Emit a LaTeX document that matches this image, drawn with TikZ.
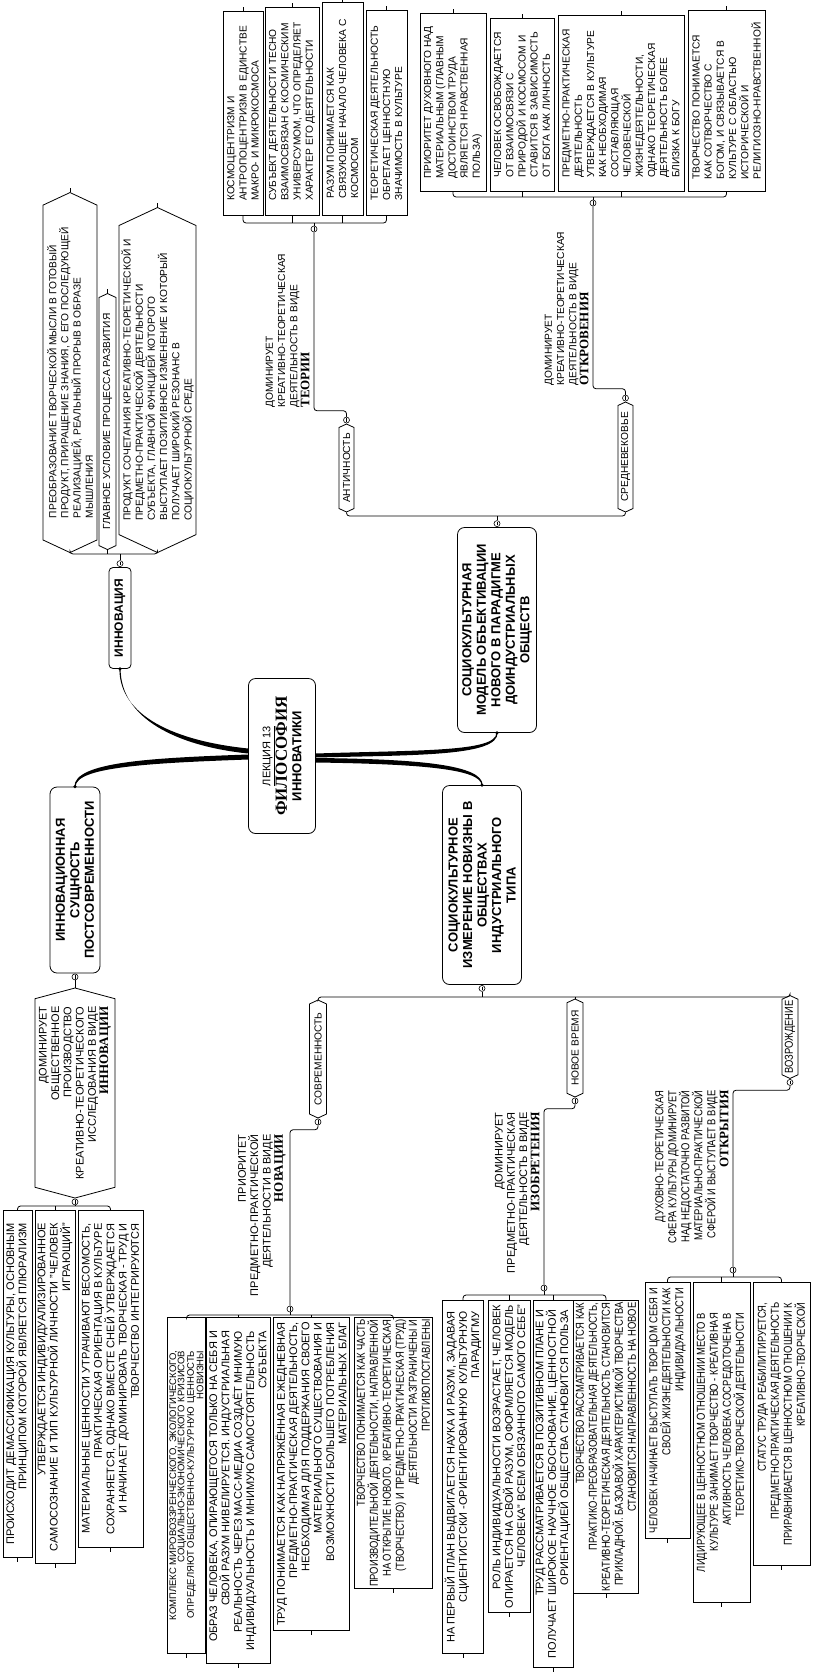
\documentclass[tikz,border=0pt]{standalone}
\usepackage{fontspec}
\setmainfont{Liberation Sans}
\newfontfamily\narrowfont{Liberation Sans}[FakeStretch=0.82]
\newfontfamily\headfont{Liberation Serif}
\usetikzlibrary{shapes.symbols,positioning}

\newcommand\leaftop{\fontsize{10.2}{12.2}\selectfont}
\newcommand\leafbot{\fontsize{11}{12.3}\selectfont}
\newcommand\leafnar{\narrowfont\fontsize{11.5}{13}\selectfont}

\tikzset{
  leaf/.style={draw, rectangle, rotate=90, inner sep=2pt, line width=1pt, font=\leaftop},
  era/.style={draw, signal, signal to=east and west, signal pointer angle=130, rotate=90, inner sep=1pt, font=\leaftop},
  topic/.style={draw, rounded corners=7pt, rotate=90, align=center, inner sep=2pt, font=\bfseries\fontsize{13}{14.5}\selectfont},
  note/.style={rotate=90, inner sep=0pt, font=\leaftop},
  knob/.style={circle, draw, fill=white, inner sep=0pt, minimum size=6pt, line width=0.6pt,
    path picture={\draw ([yshift=1.8pt]path picture bounding box.center) -- ([yshift=-1.8pt]path picture bounding box.center);}},
  brace/.style={rounded corners=3pt},
  branch/.style={fill=black}
}

\begin{document}
\begin{tikzpicture}[x=1pt, y=-1pt, line width=0.8pt]
\fill[white] (0,0) rectangle (813,1675);
\useasboundingbox (0,0) rectangle (813,1675);

% centre and main topics
\node[topic, minimum width=155, minimum height=67] (lec) at (282,756)
  {\mdseries\fontsize{11}{14}\selectfont\underline{ЛЕКЦИЯ 13}\\
   \headfont\bfseries\fontsize{17}{17}\selectfont ФИЛОСОФИЯ\\ИННОВАТИКИ};
\node[topic, minimum width=101, minimum height=22, rounded corners=4pt, font=\bfseries\fontsize{12}{13}\selectfont] (inn) at (120,618) {ИННОВАЦИЯ};
\node[topic, minimum width=186, minimum height=50] (post) at (75,880) {ИННОВАЦИОННАЯ\\СУЩНОСТЬ\\ПОСТСОВРЕМЕННОСТИ};
\node[topic, minimum width=205, minimum height=79] (pre) at (497,630) {СОЦИОКУЛЬТУРНАЯ\\МОДЕЛЬ ОБЪЕКТИВАЦИИ\\НОВОГО В ПАРАДИГМЕ\\ДОИНДУСТРИАЛЬНЫХ\\ОБЩЕСТВ};
\node[topic, minimum width=199, minimum height=79] (ind) at (482,885) {СОЦИОКУЛЬТУРНОЕ\\ИЗМЕРЕНИЕ НОВИЗНЫ В\\ОБЩЕСТВАХ\\ИНДУСТРИАЛЬНОГО\\ТИПА};

\fill[branch] ([yshift=7.5pt]lec.north) .. controls (175,741) and (119.4,716) .. ([xshift=-0.6pt]inn.west)
  -- ([xshift=0.6pt]inn.west) .. controls (120.6,718) and (176,746) .. ([yshift=2.5pt]lec.north) -- cycle;
\fill[branch] ([yshift=1.5pt]lec.north) .. controls (150,758) and (74.4,762) .. ([xshift=-0.6pt]post.east)
  -- ([xshift=0.6pt]post.east) .. controls (75.6,767) and (150,763) .. ([yshift=-3.5pt]lec.north) -- cycle;
\fill[branch] ([yshift=2.5pt]lec.south) .. controls (420,750) and (496.4,752) .. ([xshift=-0.6pt]pre.west)
  -- ([xshift=0.6pt]pre.west) .. controls (497.6,756) and (420,755) .. ([yshift=-1.5pt]lec.south) -- cycle;
\fill[branch] ([yshift=-2pt]lec.south) .. controls (420,759) and (482.6,765) .. ([xshift=0.6pt]ind.east)
  -- ([xshift=-0.6pt]ind.east) .. controls (481.4,769) and (420,764) .. ([yshift=-6.5pt]lec.south) -- cycle;
\foreach \t/\a in {inn/west, post/east, pre/west, ind/east}
  \fill (\t.\a) circle (1.8pt);

% innovation
\node[era, anchor=west, minimum width=360, minimum height=54, align=left] (inn1) at (70,553)
  {ПРЕОБРАЗОВАНИЕ ТВОРЧЕСКОЙ МЫСЛИ В ГОТОВЫЙ\\ПРОДУКТ, ПРИРАЩЕНИЕ ЗНАНИЯ, С ЕГО ПОСЛЕДУЮЩЕЙ\\РЕАЛИЗАЦИЕЙ, РЕАЛЬНЫЙ ПРОРЫВ В ОБРАЗЕ\\МЫШЛЕНИЯ};
\node[era, anchor=west, minimum width=256, minimum height=17] (inn2) at (107.5,550) {ГЛАВНОЕ УСЛОВИЕ ПРОЦЕССА РАЗВИТИЯ};
\node[era, anchor=west, minimum width=345, minimum height=77, align=left] (inn3) at (157.5,553)
  {ПРОДУКТ СОЧЕТАНИЯ КРЕАТИВНО-ТЕОРЕТИЧЕСКОЙ И\\ПРЕДМЕТНО-ПРАКТИЧЕСКОЙ ДЕЯТЕЛЬНОСТИ\\СУБЪЕКТА, ГЛАВНОЙ ФУНКЦИЕЙ КОТОРОГО\\ВЫСТУПАЕТ ПОЗИТИВНОЕ ИЗМЕНЕНИЕ И КОТОРЫЙ\\ПОЛУЧАЕТ ШИРОКИЙ РЕЗОНАНС В\\СОЦИОКУЛЬТУРНОЙ СРЕДЕ};
\node[knob] (innk) at ([yshift=3.5pt]inn.east) {};
\coordinate (innb) at (120,554);
\draw[brace] (inn1.west) |- (innb) -| (inn3.west);
\draw (inn2.west) -- (inn2.west |- innb);
\draw (innk.north) -- (innb);

% antiquity
\node[era, minimum width=88, minimum height=15] (ant) at (346.5,468) {АНТИЧНОСТЬ};
\node[leaf, anchor=west, minimum width=204, minimum height=40, align=left] (ant1) at (243,216)
  {КОСМОЦЕНТРИЗМ И\\АНТРОПОЦЕНТРИЗМ В ЕДИНСТВЕ\\МАКРО- И МИКРОКОСМОСА};
\node[leaf, anchor=west, minimum width=208, minimum height=54, align=left] (ant2) at (292,216)
  {СУБЪЕКТ ДЕЯТЕЛЬНОСТИ ТЕСНО\\ВЗАИМОСВЯЗАН С КОСМИЧЕСКИМ\\УНИВЕРСУМОМ, ЧТО ОПРЕДЕЛЯЕТ\\ХАРАКТЕР ЕГО ДЕЯТЕЛЬНОСТИ};
\node[leaf, anchor=west, minimum width=213, minimum height=41, align=left] (ant3) at (342.5,216)
  {РАЗУМ ПОНИМАЕТСЯ КАК\\СВЯЗУЮЩЕЕ НАЧАЛО ЧЕЛОВЕКА С\\КОСМОСОМ};
\node[leaf, anchor=west, minimum width=205, minimum height=41, align=left] (ant4) at (386.5,216)
  {ТЕОРЕТИЧЕСКАЯ ДЕЯТЕЛЬНОСТЬ\\ОБРЕТАЕТ ЦЕННОСТНУЮ\\ЗНАЧИМОСТЬ В КУЛЬТУРЕ};
\node[note, anchor=south west, align=left] (antlab) at (310,408)
  {ДОМИНИРУЕТ\\КРЕАТИВНО-ТЕОРЕТИЧЕСКАЯ\\ДЕЯТЕЛЬНОСТЬ В ВИДЕ\\{\headfont\bfseries\fontsize{13}{12}\selectfont ТЕОРИИ}};
\node[knob] (antk) at ([yshift=3.5pt]ant.east) {};
\node[knob] (antbk) at (314,229) {};
\coordinate (antb) at (314,223);
\draw[brace] (ant1.west) |- (antb) -| (ant4.west);
\foreach \n in {ant2,ant3} \draw (\n.west) -- (\n.west |- antb);
\draw (antbk.north) -- (antb);
\draw[brace] (antk.north) -- ++(0,-6) -| (antbk.south);

% middle ages
\node[era, minimum width=110, minimum height=15] (med) at (625.5,457) {СРЕДНЕВЕКОВЬЕ};
\node[leaf, anchor=west, minimum width=178, minimum height=66, align=left] (med1) at (453,192)
  {ПРИОРИТЕТ ДУХОВНОГО НАД\\МАТЕРИАЛЬНЫМ (ГЛАВНЫМ\\ДОСТОИНСТВОМ ТРУДА\\ЯВЛЯЕТСЯ НРАВСТВЕННАЯ\\ПОЛЬЗА)};
\node[leaf, anchor=west, minimum width=173, minimum height=64, align=left] (med2) at (522,192)
  {ЧЕЛОВЕК ОСВОБОЖДАЕТСЯ\\ОТ ВЗАИМОСВЯЗИ С\\ПРИРОДОЙ И КОСМОСОМ И\\СТАВИТСЯ В ЗАВИСИМОСТЬ\\ОТ БОГА КАК ЛИЧНОСТЬ};
\node[leaf, anchor=west, minimum width=176, minimum height=126, align=left] (med3) at (621,192)
  {ПРЕДМЕТНО-ПРАКТИЧЕСКАЯ\\ДЕЯТЕЛЬНОСТЬ\\УТВЕРЖДАЕТСЯ В КУЛЬТУРЕ\\КАК НЕОБХОДИМАЯ\\СОСТАВЛЯЮЩАЯ\\ЧЕЛОВЕЧЕСКОЙ\\ЖИЗНЕДЕЯТЕЛЬНОСТИ,\\ОДНАКО ТЕОРЕТИЧЕСКАЯ\\ДЕЯТЕЛЬНОСТЬ БОЛЕЕ\\БЛИЗКА К БОГУ};
\node[leaf, anchor=west, minimum width=181, minimum height=77, align=left] (med4) at (726.5,192)
  {ТВОРЧЕСТВО ПОНИМАЕТСЯ\\КАК СОТВОРЧЕСТВО С\\БОГОМ, И СВЯЗЫВАЕТСЯ В\\КУЛЬТУРЕ С ОБЛАСТЬЮ\\ИСТОРИЧЕСКОЙ И\\РЕЛИГИОЗНО-НРАВСТВЕННОЙ};
\node[note, anchor=south west, align=left] (medlab) at (589,386)
  {ДОМИНИРУЕТ\\КРЕАТИВНО-ТЕОРЕТИЧЕСКАЯ\\ДЕЯТЕЛЬНОСТЬ В ВИДЕ\\{\headfont\bfseries\fontsize{13}{12}\selectfont ОТКРОВЕНИЯ}};
\node[knob] (medk) at ([yshift=3.5pt]med.east) {};
\node[knob] (medbk) at (593,203) {};
\coordinate (medb) at (593,197);
\draw[brace] (med1.west) |- (medb) -| (med4.west);
\foreach \n in {med2,med3} \draw (\n.west) -- (\n.west |- medb);
\draw (medbk.north) -- (medb);
\draw[brace] (medk.north) -- ++(0,-6) -| (medbk.south);

% pre-industrial bracket
\node[knob] (prek) at ([yshift=3.5pt]pre.east) {};
\coordinate (preb) at (497,516);
\draw[brace] (ant.west) |- (preb) -| (med.west);
\draw (prek.north) -- (preb);

% postmodern
\node[era, signal pointer angle=150, minimum width=210, minimum height=80, align=right, font=\leafbot] (postdom) at (75,1093)
  {ДОМИНИРУЕТ\\ОБЩЕСТВЕННОЕ\\ПРОИЗВОДСТВО\\КРЕАТИВНО-ТЕОРЕТИЧЕСКОГО\\ИССЛЕДОВАНИЯ В ВИДЕ\\{\headfont\bfseries\fontsize{13}{12}\selectfont ИННОВАЦИИ}};
\node[leaf, anchor=east, minimum width=347, minimum height=29, align=right, font=\leafbot] (post1) at (17.5,1210)
  {ПРОИСХОДИТ ДЕМАССИФИКАЦИЯ КУЛЬТУРЫ, ОСНОВНЫМ\\ПРИНЦИПОМ КОТОРОЙ ЯВЛЯЕТСЯ ПЛЮРАЛИЗМ};
\node[leaf, anchor=east, minimum width=353, minimum height=40, align=right, font=\leafbot] (post2) at (55,1210)
  {УТВЕРЖДАЕТСЯ ИНДИВИДУАЛИЗИРОВАННОЕ\\САМОСОЗНАНИЕ И ТИП КУЛЬТУРНОЙ ЛИЧНОСТИ "ЧЕЛОВЕК\\ИГРАЮЩИЙ"};
\node[leaf, anchor=east, minimum width=337, minimum height=65, align=right, font=\leafbot] (post3) at (110.5,1210)
  {МАТЕРИАЛЬНЫЕ ЦЕННОСТИ УТРАЧИВАЮТ ВЕСОМОСТЬ,\\ПРАКТИЧЕСКАЯ ОРИЕНТАЦИЯ В КУЛЬТУРЕ\\СОХРАНЯЕТСЯ, ОДНАКО ВМЕСТЕ СНЕЙ УТВЕРЖДАЕТСЯ\\И НАЧИНАЕТ ДОМИНИРОВАТЬ ТВОРЧЕСКАЯ - ТРУД И\\ТВОРЧЕСТВО ИНТЕГРИРУЮТСЯ};
\node[knob] (postk) at ([yshift=-3.5pt]post.west) {};
\node[knob] (postdk) at ([yshift=-3.5pt]postdom.west) {};
\coordinate (postb) at (75,1206);
\draw (postk.south) -- (postdom.east);
\draw[brace] (post1.east) |- (postb) -| (post3.east);
\draw (post2.east) -- (post2.east |- postb);
\draw (postdk.south) -- (postb);

% industrial bracket
\node[era, minimum width=118, minimum height=17] (mod) at (318,1059) {СОВРЕМЕННОСТЬ};
\node[era, minimum width=98, minimum height=16] (new) at (575,1048) {НОВОЕ ВРЕМЯ};
\node[era, minimum width=75, minimum height=16, font=\leafnar] (ren) at (790,1037) {ВОЗРОЖДЕНИЕ};
\node[knob] (indk) at ([yshift=-3.5pt]ind.west) {};
\coordinate (indb) at (482,997);
\draw[brace] (mod.east) |- (indb) -| (ren.east);
\draw (new.east) -- (new.east |- indb);
\draw (indk.south) -- (indb);

% modernity
\node[note, anchor=south east, align=right, font=\leafbot] (modlab) at (286,1134)
  {ПРИОРИТЕТ\\ПРЕДМЕТНО-ПРАКТИЧЕСКОЙ\\ДЕЯТЕЛЬНОСТИ В ВИДЕ\\{\headfont\bfseries\fontsize{13}{12}\selectfont НОВАЦИИ}};
\node[leaf, anchor=east, minimum width=336, minimum height=34, align=right, font=\fontsize{9.5}{8.4}\selectfont] (mod1) at (186.5,1317)
  {КОМПЛЕКС МИРОВОЗЗРЕНЧЕСКОГО, ЭКОЛОГИЧЕСКОГО,\\СОЦИАЛЬНО-ЭКОНОМИЧЕСКОГО КРИЗИСОВ\\ОПРЕДЕЛЯЮТ ОБЩЕСТВЕННО-КУЛЬТУРНУЮ ЦЕННОСТЬ\\НОВИЗНЫ};
\node[leaf, anchor=east, minimum width=346, minimum height=64, align=right, font=\leafbot] (mod2) at (238,1317)
  {ОБРАЗ ЧЕЛОВЕКА, ОПИРАЮЩЕГОСЯ ТОЛЬКО НА СЕБЯ И\\СВОЙ РАЗУМ НИВЕЛИРУЕТСЯ. ИНДУСТРИАЛЬНАЯ\\РЕАЛЬНОСТЬ ЧЕРЕЗ МАСС-МЕДИА СОЗДАЁТ МНИМУЮ\\ИНДИВИДУАЛЬНОСТЬ И МНИМУЮ САМОСТОЯТЕЛЬНОСТЬ\\СУБЪЕКТА};
\node[leaf, anchor=east, minimum width=313, minimum height=76, align=right, font=\leafbot] (mod3) at (311,1317)
  {ТРУД ПОНИМАЕТСЯ КАК НАПРЯЖЁННАЯ ЕЖЕДНЕВНАЯ\\ПРЕДМЕТНО-ПРАКТИЧЕСКАЯ ДЕЯТЕЛЬНОСТЬ,\\НЕОБХОДИМАЯ ДЛЯ ПОДДЕРЖАНИЯ СВОЕГО\\МАТЕРИАЛЬНОГО СУЩЕСТВОВАНИЯ И\\ВОЗМОЖНОСТИ БОЛЬШЕГО ПОТРЕБЛЕНИЯ\\МАТЕРИАЛЬНЫХ БЛАГ};
\node[leaf, anchor=east, minimum width=218, minimum height=77, align=right, font=\leafnar] (mod4) at (393.5,1317)
  {ТВОРЧЕСТВО ПОНИМАЕТСЯ КАК ЧАСТЬ\\ПРОИЗВОДИТЕЛЬНОЙ ДЕЯТЕЛЬНОСТИ, НАПРАВЛЕННОЙ\\НА ОТКРЫТИЕ НОВОГО. КРЕАТИВНО-ТЕОРЕТИЧЕСКАЯ\\(ТВОРЧЕСТВО) И ПРЕДМЕТНО-ПРАКТИЧЕСКАЯ (ТРУД)\\ДЕЯТЕЛЬНОСТИ РАЗГРАНИЧЕНЫ И\\ПРОТИВОПОСТАВЛЕНЫ};
\node[knob] (modk) at ([yshift=-3.5pt]mod.west) {};
\node[knob] (modbk) at (290,1309) {};
\coordinate (modb) at (290,1315);
\draw[brace] (modk.south) -- ++(0,4.5) -| (modbk.north);
\draw (modbk.south) -- (modb);
\draw[brace] (mod1.east) |- (modb) -| (mod4.east);
\foreach \n in {mod2,mod3} \draw (\n.east) -- (\n.east |- modb);

% new time
\node[note, anchor=south east, align=right, font=\leafbot] (newlab) at (540,1112)
  {ДОМИНИРУЕТ\\ПРЕДМЕТНО-ПРАКТИЧЕСКАЯ\\ДЕЯТЕЛЬНОСТЬ В ВИДЕ\\{\headfont\bfseries\fontsize{13}{12}\selectfont ИЗОБРЕТЕНИЯ}};
\node[leaf, anchor=east, minimum width=353, minimum height=40, align=right, font=\leafbot] (new1) at (463,1300)
  {НА ПЕРВЫЙ ПЛАН ВЫДВИГАЕТСЯ НАУКА И РАЗУМ, ЗАДАВАЯ\\СЦИЕНТИСТСКИ -ОРИЕНТИРОВАННУЮ КУЛЬТУРНУЮ\\ПАРАДИГМУ};
\node[leaf, anchor=east, minimum width=312, minimum height=42, align=right, font=\leafbot] (new2) at (509,1300)
  {РОЛЬ ИНДИВИДУАЛЬНОСТИ ВОЗРАСТАЕТ, ЧЕЛОВЕК\\ОПИРАЕТСЯ НА СВОЙ РАЗУМ, ОФОРМЛЯЕТСЯ МОДЕЛЬ\\ЧЕЛОВЕКА" ВСЕМ ОБЯЗАННОГО САМОГО СЕБЕ"};
\node[leaf, anchor=east, minimum width=367, minimum height=40, align=right, font=\leafbot] (new3) at (553,1300)
  {ТРУД РАССМАТРИВАЕТСЯ В ПОЗИТИВНОМ ПЛАНЕ И\\ПОЛУЧАЕТ ШИРОКОЕ НАУЧНОЕ ОБОСНОВАНИЕ, ЦЕННОСТНОЙ\\ОРИЕНТАЦИЕЙ ОБЩЕСТВА СТАНОВИТСЯ ПОЛЬЗА};
\node[leaf, anchor=east, minimum width=275, minimum height=60, align=right, font=\leafnar] (new4) at (606,1300)
  {ТВОРЧЕСТВО РАССМАТРИВАЕТСЯ КАК\\ПРАКТИКО-ПРЕОБРАЗОВАТЕЛЬНАЯ ДЕЯТЕЛЬНОСТЬ,\\КРЕАТИВНО-ТЕОРЕТИЧЕСКАЯ ДЕЯТЕЛЬНОСТЬ СТАНОВИТСЯ\\ПРИКЛАДНОЙ. БАЗОАВОЙ ХАРАКТЕРИСТИКОЙ ТВОРЧЕСТВА\\СТАНОВИТСЯ НАПРАВЛЕННОСТЬ НА НОВОЕ};
\node[knob] (newk) at ([yshift=-3.5pt]new.west) {};
\node[knob] (newbk) at (544,1288) {};
\coordinate (newb) at (544,1295);
\draw[brace] (newk.south) -- ++(0,4.5) -| (newbk.north);
\draw (newbk.south) -- (newb);
\draw[brace] (new1.east) |- (newb) -| (new4.east);
\foreach \n in {new2,new3} \draw (\n.east) -- (\n.east |- newb);

% renaissance
\node[note, anchor=south east, align=right, font=\leafnar] (renlab) at (729,1090)
  {ДУХОВНО-ТЕОРЕТИЧЕСКАЯ\\СФЕРА КУЛЬТУРЫ ДОМИНИРУЕТ\\НАД НЕДОСТАТОЧНО РАЗВИТОЙ\\МАТЕРИАЛЬНО-ПРАКТИЧЕСКОЙ\\СФЕРОЙ И ВЫСТУПАЕТ В ВИДЕ\\{\headfont\bfseries\fontsize{13}{12}\selectfont ОТКРЫТИЯ}};
\node[leaf, anchor=east, minimum width=256, minimum height=45, align=right, font=\leafnar] (ren1) at (667.5,1282)
  {ЧЕЛОВЕК НАЧИНАЕТ ВЫСТУПАТЬ ТВОРЦОМ СЕБЯ И\\СВОЕЙ ЖИЗНЕДЕЯТЕЛЬНОСТИ КАК\\ИНДИВИДУАЛЬНОСТИ};
\node[leaf, anchor=east, minimum width=320, minimum height=57, align=right, font=\leafnar] (ren2) at (721.5,1282)
  {ЛИДИРУЮЩЕЕ В ЦЕННОСТНОМ ОТНОШЕНИИ МЕСТО В\\КУЛЬТУРЕ ЗАНИМАЕТ ТВОРЧЕСТВО - КРЕАТИВНАЯ\\АКТИВНОСТЬ ЧЕЛОВЕКА СОСРЕДОТОЧЕНА В\\ТЕОРЕТИКО-ТВОРЧЕСКОЙ ДЕЯТЕЛЬНОСТИ};
\node[leaf, anchor=east, minimum width=283, minimum height=57, align=right, font=\leafnar] (ren3) at (781.5,1282)
  {СТАТУС ТРУДА РЕАБИЛИТИРУЕТСЯ,\\ПРЕДМЕТНО-ПРАКТИЧЕСКАЯ ДЕЯТЕЛЬНОСТЬ\\ПРИРАВНИВАЕТСЯ В ЦЕННОСТНОМ ОТНОШЕНИИ К\\КРЕАТИВНО-ТВОРЧЕСКОЙ};
\node[knob] (renk) at ([yshift=-3.5pt]ren.west) {};
\node[knob] (renbk) at (733,1270) {};
\coordinate (renb) at (733,1277);
\draw[brace] (renk.south) -- ++(0,4.5) -| (renbk.north);
\draw (renbk.south) -- (renb);
\draw[brace] (ren1.east) |- (renb) -| (ren3.east);
\draw (ren2.east) -- (ren2.east |- renb);

% end ticks of the leaves
\foreach \n in {inn1,inn2,inn3,ant1,ant2,ant3,ant4,med1,med2,med3,med4}
  \draw (\n.east) -- ++(0,-4);
\foreach \n in {post1,post2,post3,mod1,mod2,mod3,mod4,new1,new2,new3,new4,ren1,ren2,ren3}
  \draw (\n.west) -- ++(0,4);
\end{tikzpicture}
\end{document}
